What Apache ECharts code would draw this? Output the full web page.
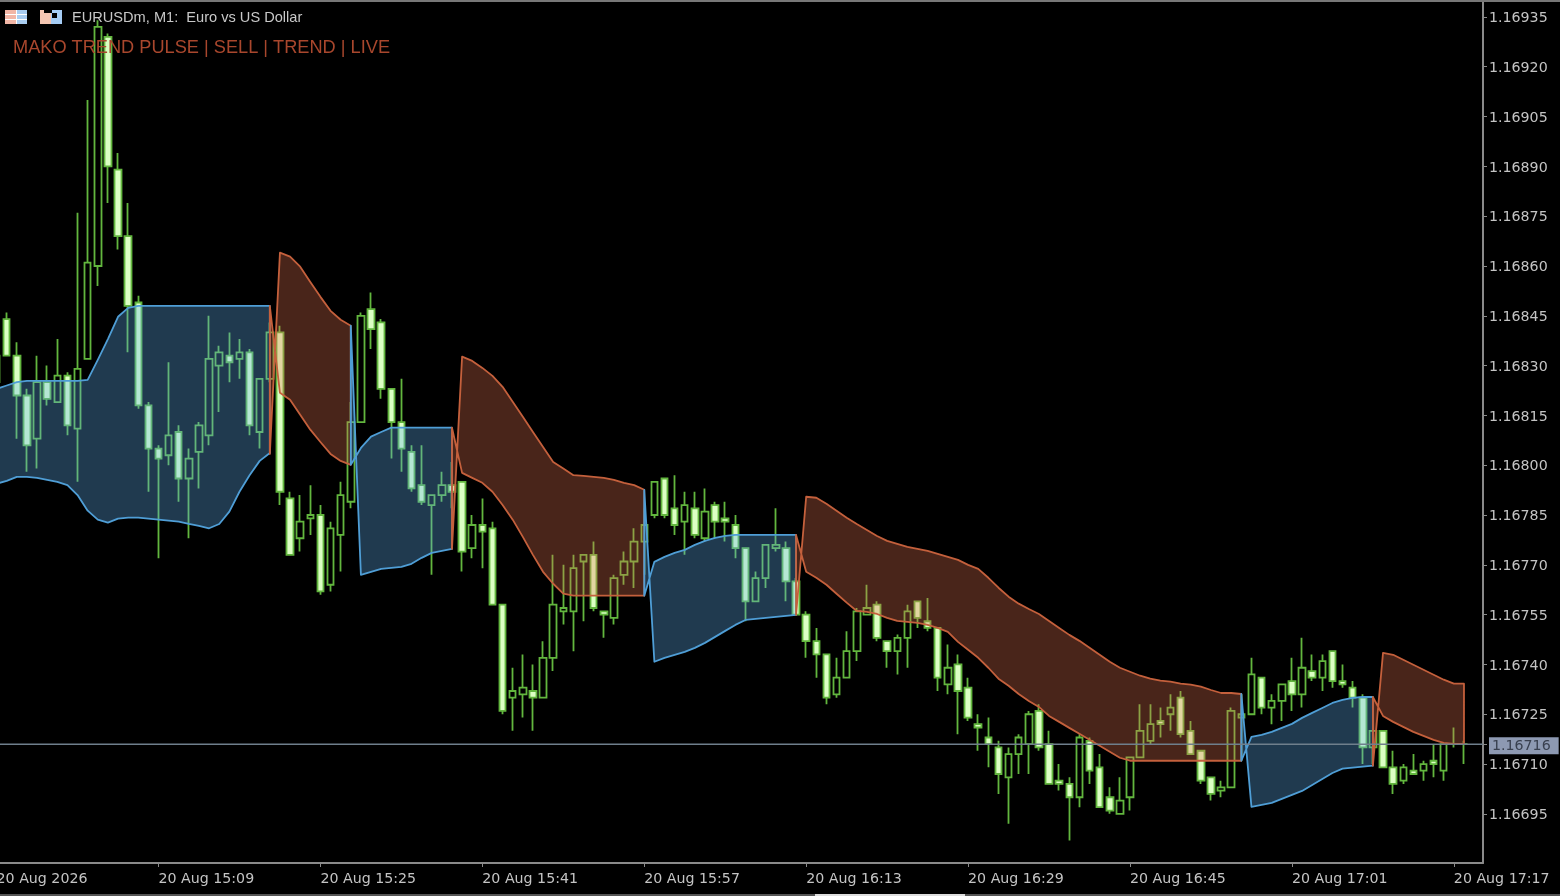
<!DOCTYPE html>
<html>
<head>
<meta charset="utf-8">
<style>html,body{margin:0;padding:0;background:#000;overflow:hidden}#c{width:1560px;height:896px;filter:blur(0.7px)}</style>
<script src="https://cdn.jsdelivr.net/npm/echarts@6/dist/echarts.min.js"></script>
</head>
<body>
<div id="c"></div>
<script>
// All prices are stored as points above 1.16000 (1 point = 0.00001)
const priceBase = 1.16;
const firstMinute = 893; // 14:53, minutes since midnight

const opens = [833,844,833,821,808,825,819,827,811,832,860,929,889,869,849,818,805,803,810,796,804,809,830,833,832,834,810,826,840,790,778,784,785,764,779,789,813,847,843,823,813,804,794,788,791,794,795,775,782,781,758,730,731,732,730,742,756,756,771,773,756,754,767,771,777,785,796,787,783,787,778,788,784,782,775,759,766,775,775,765,755,747,743,731,736,744,755,758,747,744,748,759,753,751,734,740,733,722,718,715,706,713,716,726,716,705,704,700,717,709,700,695,700,712,717,723,725,730,720,714,706,702,703,724,725,736,727,729,735,731,738,736,744,735,733,730,715,720,709,705,708,708,711,708,716,716];
const closes = [825,833,821,806,825,820,827,812,829,861,932,890,869,848,818,805,802,809,796,802,812,832,834,831,834,812,826,840,792,773,783,785,762,781,791,813,845,841,823,813,805,793,789,791,794,792,774,782,780,758,726,732,733,730,742,758,757,769,773,757,755,766,771,777,782,795,785,782,788,779,786,783,783,775,759,766,776,776,765,755,747,743,730,736,744,756,757,748,744,748,756,754,751,736,739,732,724,721,716,707,713,718,725,715,704,704,700,718,708,697,696,699,712,720,722,722,727,719,713,705,701,703,726,725,737,727,729,734,731,739,736,741,735,734,730,715,720,709,704,709,707,710,710,716,716,716];
const lows = [820,833,808,798,799,818,819,809,795,832,854,879,865,834,817,792,772,800,789,778,793,806,816,825,826,809,805,825,788,773,774,779,761,762,768,787,813,835,820,802,798,792,788,767,789,787,768,772,769,758,725,720,724,720,730,738,752,744,753,756,748,752,764,763,767,784,784,779,773,778,777,778,777,772,753,759,763,774,759,755,742,736,728,730,736,741,755,747,739,737,739,751,750,732,731,719,723,714,709,701,692,707,707,714,704,702,687,697,704,697,695,695,696,712,716,718,720,718,713,704,699,700,703,711,725,725,722,723,726,727,735,732,733,733,727,710,710,709,701,704,707,705,706,705,715,710];
const highs = [846,846,837,823,833,830,838,828,876,910,934,930,894,879,851,819,806,831,812,805,813,845,836,840,838,835,826,843,842,792,791,794,788,783,795,819,846,852,844,823,826,806,806,791,798,801,795,785,790,783,758,739,743,740,747,773,770,773,773,777,756,767,774,781,787,795,796,797,792,792,793,789,789,785,775,768,776,787,777,766,756,751,743,742,750,757,764,759,747,749,758,759,760,751,746,743,736,725,724,717,715,719,726,728,720,710,706,719,718,713,703,706,712,728,728,727,731,732,723,714,706,705,727,731,742,736,731,734,742,748,743,743,744,740,735,731,720,720,714,710,713,711,716,716,721,717];

const lastPrice = 716;

const yTickPoints = [935,920,905,890,875,860,845,830,815,800,785,770,755,740,725,710,695];
const xTickMinutes = [893,909,925,941,957,973,989,1005,1021,1037];
const xTickLabels = ["20 Aug 2026","20 Aug 15:09","20 Aug 15:25","20 Aug 15:41","20 Aug 15:57","20 Aug 16:13","20 Aug 16:29","20 Aug 16:45","20 Aug 17:01","20 Aug 17:17"];

// Bands: each starts at the given minute and has one value per minute on two lines
const blue1Start = 893;
const blue1A = [823,824,825,825.4,825.4,825.4,825.4,825.4,825.4,825.7,831.7,838,844.7,847.4,848,848,848,848,848,848,848,848,848,848,848,848,848,848];
const blue1B = [794.4,795.3,796.5,796.5,796.2,795.6,795,794,791,786.3,783.6,782.7,783.9,784.2,784.2,783.9,783.6,783.3,783,782.3,781.7,781,782.3,786,792,797,801.3,803.7];

const red1Start = 920;
const red1A = [803.4,864,862.8,859.8,855.2,850.7,846.5,843.8,842];
const red1B = [848,821.8,819.7,815.2,810.7,807,803.4,801.3,800.1];

const blue2Start = 928;
const blue2A = [800.1,805.2,808.6,810,811.3,811.3,811.3,811.3,811.3,811.3,811.3];
const blue2B = [842,767,767.9,768.8,769.1,769.4,770.3,772.1,773.6,774.2,774.8];

const red2Start = 938;
const red2A = [774.8,832.7,831.4,829.3,826.9,823.6,819.1,814.6,810,805.5,801,799,797,796.8,796.5,796.2,795.6,794.7,794,792.6];
const red2B = [811.3,797.7,796.2,794.7,792,788,783.6,778.4,773,767.9,764.3,761.3,760.7,760.7,760.7,760.7,760.7,760.7,760.7,760.7];

const blue3Start = 957;
const blue3A = [760.7,770.9,772.4,773.6,774.5,776,777.2,778.1,778.7,779,779,779,779,779,779,779];
const blue3B = [792.6,740.8,742,742.9,743.8,745,746.5,748.3,750.1,751.9,753.4,753.7,754,754.3,754.6,754.9];

const red3Start = 972;
const red3A = [754.9,790.5,790.2,788.4,786.3,784.2,782.3,780.5,778.7,777.2,776.3,775.4,774.8,774.2,773.3,772.4,771.5,770,768.8,766.1,763.1,760.4,758.3,756.7,755.2,753.1,751,748.9,747.1,745,742.9,740.8,739,737.8,736.6,735.7,735.1,734.8,734.2,733.9,733.3,732.3,731.4,731.4,731.1];
const red3B = [779,767.9,766.1,764,761.3,758.6,756.1,755.8,755.2,754,753.1,752.8,752.5,751.9,751,749.8,746.8,744.4,742,739,735.7,733.6,731.1,729,727.2,724.5,722.7,720.9,719.1,717.3,715.5,713.7,711.9,711,711,711,711,711,711,711,711,711,711,711,711];

const blue4Start = 1016;
const blue4A = [711,718.2,718.8,719.7,720.9,722.1,723.9,725.4,726.9,728.4,729.3,729.9,730.2,730.2];
const blue4B = [731.1,697.1,697.7,698.3,699.5,700.7,701.9,703.7,705.5,707.3,708.6,708.9,709.2,709.5];

const red4Start = 1029;
const red4A = [709.5,743.5,742.9,741.4,739.9,738.4,736.9,735.4,734.2,734.2];
const red4B = [730.2,724.5,722.7,721.2,719.7,718.5,717.3,716.4,716.1,716.1];

const BLUE = {fill:'rgba(98,180,245,0.32)', line:'#4f9ed6'};
const RED  = {fill:'rgba(235,120,85,0.31)', line:'#c4603c'};

const bands = [
  [blue1Start, blue1A, blue1B, BLUE],
  [red1Start, red1A, red1B, RED],
  [blue2Start, blue2A, blue2B, BLUE],
  [red2Start, red2A, red2B, RED],
  [blue3Start, blue3A, blue3B, BLUE],
  [red3Start, red3A, red3B, RED],
  [blue4Start, blue4A, blue4B, BLUE],
  [red4Start, red4A, red4B, RED]
];

const price = p => +(priceBase + p / 1e5).toFixed(6);
const candles = opens.map((o, i) => [firstMinute + i, price(o), price(closes[i]), price(lows[i]), price(highs[i])]);
const yTicks = yTickPoints.map(price).concat([price(lastPrice)]);

const chart = echarts.init(document.getElementById('c'), null, {renderer: 'canvas', width: 1560, height: 896});
const FONT = '"DejaVu Sans", sans-serif';
const AXIS_GREY = '#8a8a8a';
const LABEL_GREY = '#c4c4c4';

chart.setOption({
  animation: false,
  backgroundColor: '#000',
  grid: {left: -8, right: 77, top: 2, bottom: 33, outerBoundsMode: 'none', containLabel: false},
  xAxis: {
    type: 'value',
    min: 892.547,
    max: 1039.88,
    splitLine: {show: false},
    axisLine: {show: true, onZero: false, lineStyle: {color: AXIS_GREY, width: 2}},
    axisTick: {show: true, customValues: xTickMinutes, length: 4, lineStyle: {color: AXIS_GREY}},
    axisLabel: {
      customValues: xTickMinutes,
      align: 'left',
      margin: 9,
      color: LABEL_GREY,
      fontFamily: FONT,
      fontSize: 14.2,
      formatter: v => xTickLabels[xTickMinutes.indexOf(v)] || ''
    }
  },
  yAxis: {
    type: 'value',
    position: 'right',
    min: 1.166802,
    max: 1.169395,
    splitLine: {show: false},
    axisLine: {show: true, onZero: false, lineStyle: {color: AXIS_GREY, width: 2}},
    axisTick: {show: true, customValues: yTicks, length: 4, lineStyle: {color: AXIS_GREY}},
    axisLabel: {
      customValues: yTicks,
      margin: 3,
      padding: [3, 0, 0, 3],
      color: LABEL_GREY,
      fontFamily: FONT,
      fontSize: 14.2,
      formatter: v => {
        const s = v.toFixed(5);
        return s === price(lastPrice).toFixed(5) ? '{cur|' + s + '}' : s;
      },
      rich: {cur: {color: '#39404f', backgroundColor: '#8d99b2', fontFamily: FONT, fontSize: 14.2, padding: [2, 8, 1, 3]}}
    }
  },
  series: [
    {
      type: 'candlestick',
      name: 'EURUSDm',
      data: candles,
      barWidth: 7,
      z: 2,
      itemStyle: {color: '#000', color0: '#dcffc4', borderColor: '#62b63e', borderColor0: '#62b63e', borderWidth: 1.8}
    },
    {
      type: 'custom',
      name: 'Bands',
      z: 3,
      silent: true,
      coordinateSystem: 'cartesian2d',
      data: bands.map((b, i) => [i]),
      renderItem: (params, api) => {
        const [start, a, b, col] = bands[params.dataIndex];
        const pts = [];
        a.forEach((p, i) => pts.push(api.coord([start + i, price(p)])));
        for (let i = b.length - 1; i >= 0; i--) pts.push(api.coord([start + i, price(b[i])]));
        return {type: 'polygon', shape: {points: pts}, style: {fill: col.fill, stroke: col.line, lineWidth: 1.8, lineJoin: 'round'}};
      }
    },
    {
      type: 'line',
      name: 'Last',
      z: 4,
      silent: true,
      symbol: 'none',
      data: [[892.547, price(lastPrice)], [1039.88, price(lastPrice)]],
      lineStyle: {color: '#6f7f8c', width: 1.5}
    }
  ],
  graphic: [
    {type: 'rect', z: 10, shape: {x: 0, y: 0, width: 1560, height: 2}, style: {fill: '#777'}},
    {type: 'rect', z: 10, shape: {x: 0, y: 894, width: 1560, height: 2}, style: {fill: '#555'}},
    {type: 'rect', z: 10, shape: {x: 815, y: 894, width: 150, height: 2}, style: {fill: '#ddd'}},
    {type: 'rect', z: 10, shape: {x: 5, y: 10, width: 11, height: 14}, style: {fill: '#f2b6a6'}},
    {type: 'rect', z: 10, shape: {x: 16, y: 10, width: 11, height: 14}, style: {fill: '#a9cdf0'}},
    {type: 'rect', z: 10, shape: {x: 5, y: 14, width: 22, height: 1}, style: {fill: '#fff'}},
    {type: 'rect', z: 10, shape: {x: 5, y: 19, width: 22, height: 1}, style: {fill: '#fff'}},
    {type: 'rect', z: 10, shape: {x: 16, y: 10, width: 1, height: 14}, style: {fill: '#fff'}},
    {type: 'rect', z: 10, shape: {x: 40, y: 10, width: 11, height: 14}, style: {fill: '#f5c6b2'}},
    {type: 'rect', z: 10, shape: {x: 51, y: 10, width: 11, height: 14}, style: {fill: '#a6cdf5'}},
    {type: 'rect', z: 10, shape: {x: 44, y: 9, width: 8, height: 4}, style: {fill: '#000'}},
    {type: 'rect', z: 10, shape: {x: 52, y: 13, width: 5, height: 5}, style: {fill: '#000'}},
    {type: 'text', z: 10, style: {x: 72, y: 18, text: 'EURUSDm, M1:  Euro vs US Dollar', fill: '#c8c8c8', font: '14.6px "Liberation Sans", sans-serif', verticalAlign: 'middle'}},
    {type: 'text', z: 10, style: {x: 13, y: 48, text: 'MAKO TREND PULSE | SELL | TREND | LIVE', fill: '#a9472d', font: '18.2px "Liberation Sans", sans-serif', verticalAlign: 'middle'}}
  ]
});
</script>
</body>
</html>
